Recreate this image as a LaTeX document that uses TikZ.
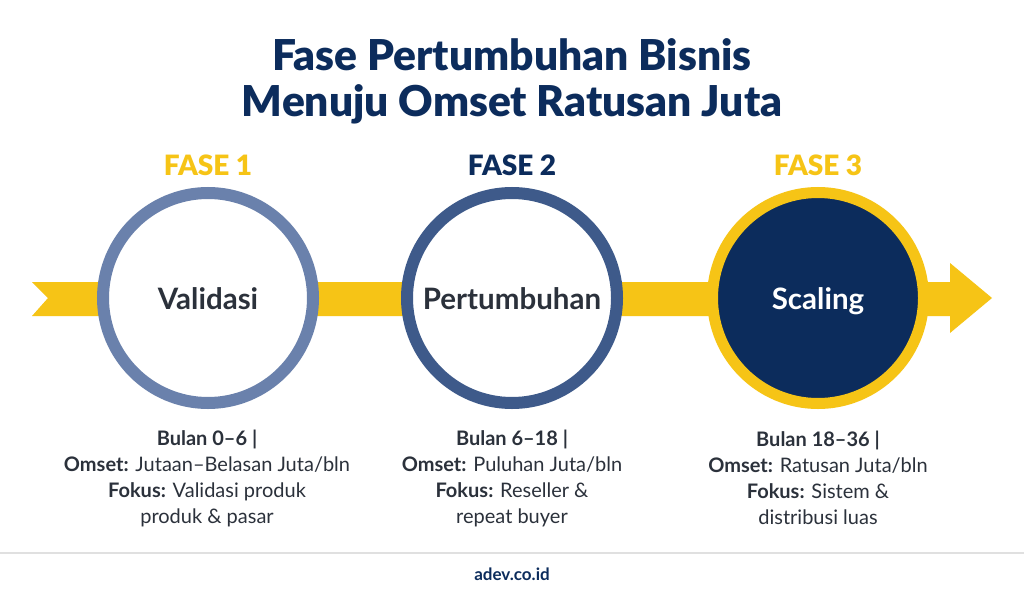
\documentclass[tikz,border=0pt]{standalone}
\usepackage{fontspec}
\setmainfont{Lato}
\IfFontExistsTF{Lato Black}{\newfontfamily\heavyfont{Lato Black}}{\newfontfamily\heavyfont[FakeBold=0.6]{Lato Bold}}
\definecolor{navy}{HTML}{0C2C5C}
\definecolor{ylw}{HTML}{F6C416}
\definecolor{ringA}{HTML}{6A81AC}
\definecolor{ringB}{HTML}{3E5A8A}
\definecolor{txt}{HTML}{2B313B}
\begin{document}
\begin{tikzpicture}[x=1pt,y=-1pt,
  phase/.style={circle,line width=12pt,minimum size=210pt,inner sep=0pt},
  phlbl/.style={anchor=base,inner sep=0pt,font=\fontsize{29.5}{32}\selectfont\bfseries},
  faselbl/.style={font=\fontsize{28}{30}\selectfont\heavyfont},
  info/.style={align=center,text=txt,font=\fontsize{20}{26}\selectfont}
]
\useasboundingbox (0,0) rectangle (1024,591);
\fill[white] (0,0) rectangle (1024,591);
% title
\node[text=navy,align=center,font=\fontsize{42.5}{46}\selectfont\heavyfont] (title) at (512,81)
  {Fase Pertumbuhan Bisnis\\Menuju Omset Ratusan Juta};
% ribbon arrow
\coordinate (rstart) at (32,298);
\coordinate (rtip) at (992,298);
\fill[ylw] (32,282) -- (950,282) -- (950,263) -- (rtip) -- (950,333) -- (950,316) -- (32,316) -- (48,298) -- cycle;
% phases
\node[phase,draw=ringA,fill=white] (p1) at (208,298) {};
\node[phase,draw=ringB,fill=white] (p2) at (512,298) {};
\node[phase,draw=ylw,fill=navy,line width=11pt,minimum size=211pt] (p3) at (818,298) {};
\node[phlbl,text=txt] (l1) at ([yshift=-11pt]p1.center) {Validasi};
\node[phlbl,text=txt] (l2) at ([yshift=-11pt]p2.center) {Pertumbuhan};
\node[phlbl,text=white] (l3) at ([yshift=-11pt]p3.center) {Scaling};
% fase labels
\node[faselbl,text=ylw] (f1) at (208,165) {FASE 1};
\node[faselbl,text=navy] (f2) at (512,165) {FASE 2};
\node[faselbl,text=ylw] (f3) at (818,165) {FASE 3};
% info
\node[info] (i1) at (207,478) {\textbf{Bulan 0–6 |}\\\textbf{Omset:} Jutaan–Belasan Juta/bln\\\textbf{Fokus:} Validasi produk\\produk \& pasar};
\node[info] (i2) at (512,478) {\textbf{Bulan 6–18 |}\\\textbf{Omset:} Puluhan Juta/bln\\\textbf{Fokus:} Reseller \&\\repeat buyer};
\node[info] (i3) at (818,478) {\textbf{Bulan 18–36 |}\\\textbf{Omset:} Ratusan Juta/bln\\\textbf{Fokus:} Sistem \&\\distribusi luas};
% footer
\draw[black!12,line width=1.5pt] (0,553) -- (1024,553);
\node[text=navy,font=\fontsize{17}{20}\selectfont\bfseries] (web) at (512,574) {adev.co.id};
\end{tikzpicture}
\end{document}
